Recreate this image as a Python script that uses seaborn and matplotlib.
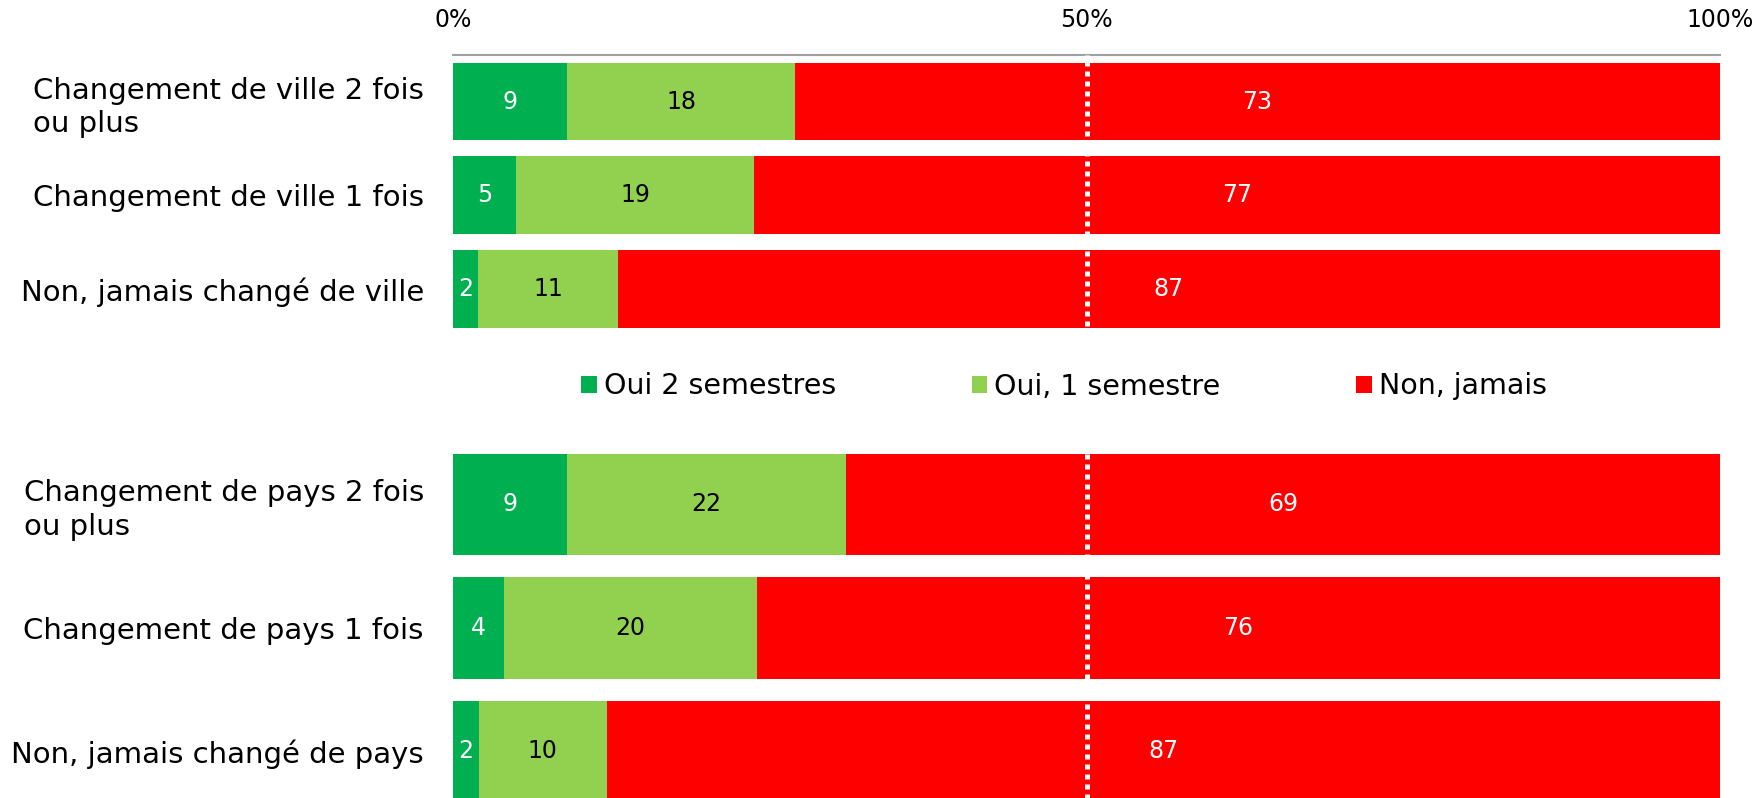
import numpy as np
import pandas as pd
import matplotlib
matplotlib.use("Agg")
import matplotlib.pyplot as plt
import seaborn as sns
from matplotlib.patches import Patch

# ---------------- data ----------------
cat_ville = ["Changement de ville 2 fois\nou plus",
             "Changement de ville 1 fois",
             "Non, jamais changé de ville"]
cat_pays = ["Changement de pays 2 fois\nou plus",
            "Changement de pays 1 fois",
            "Non, jamais changé de pays"]
series = ["Oui 2 semestres", "Oui, 1 semestre", "Non, jamais"]

ville_2sem = [9, 5, 2]
ville_1sem = [18, 19, 11]
ville_jamais = [73, 77, 87]

pays_2sem = [9, 4, 2]
pays_1sem = [22, 20, 10]
pays_jamais = [69, 76, 87]

x_ticks = [0, 50, 100]
x_ticklabels = ["0%", "50%", "100%"]

colors = ["#00B050", "#92D050", "#FF0000"]
label_colors = ["white", "black", "white"]

# ---------------- style ----------------
sns.set_theme(style="white")
plt.rcParams["font.family"] = ["DejaVu Sans"]
plt.rcParams["text.color"] = "black"
plt.rcParams["xtick.color"] = "black"
plt.rcParams["ytick.color"] = "black"
plt.rcParams["xtick.labelcolor"] = "black"
plt.rcParams["ytick.labelcolor"] = "black"

W, H = 1759, 798
fig = plt.figure(figsize=(W / 100, H / 100), dpi=100)
fig.patch.set_facecolor("white")

left = 453 / W
width = 1267 / W
ax_top = fig.add_axes([left, 1 - 335.8 / H, width, 281.1 / H])
ax_bot = fig.add_axes([left, 1 - 813.25 / H, width, 370.5 / H])


def draw(ax, cats, v2, v1, v0, bar_w):
    df = pd.DataFrame({"cat": cats, series[0]: v2, series[1]: v1, series[2]: v0})
    tot = df[series].sum(axis=1)
    pct = df[series].div(tot, axis=0) * 100
    cum = pct.cumsum(axis=1)
    for i in reversed(range(3)):
        sns.barplot(x=cum[series[i]].values, y=df["cat"].values, order=cats,
                    color=colors[i], saturation=1, width=bar_w, orient="h",
                    linewidth=0, errorbar=None, ax=ax)
    for j in range(len(cats)):
        for i in range(3):
            c = cum[series[i]].iloc[j] - pct[series[i]].iloc[j] / 2
            ax.text(c, j, str(df[series[i]].iloc[j]), ha="center", va="center",
                    color=label_colors[i], fontsize=17, zorder=6)
    ax.set_xlim(0, 100)
    ax.set_ylim(2.5, -0.5)
    ax.set_xlabel("")
    ax.set_ylabel("")
    ax.set_yticks(range(len(cats)))
    ax.set_yticklabels(cats, fontsize=21, linespacing=1.25, color="black")
    for t in ax.get_yticklabels():
        t.set_multialignment("left")
    ax.tick_params(axis="y", length=0, pad=21)
    ax.axvline(50, color="white", lw=3.6, linestyle=(0, (1, 1)), zorder=5,
               clip_on=False)
    for s in ax.spines.values():
        s.set_visible(False)


draw(ax_top, cat_ville, ville_2sem, ville_1sem, ville_jamais, 0.83)
draw(ax_bot, cat_pays, pays_2sem, pays_1sem, pays_jamais, 0.82)

# top axis with percentage ticks
ax_top.xaxis.tick_top()
ax_top.set_xticks(x_ticks)
ax_top.set_xticklabels(x_ticklabels, fontsize=17, color="black")
ax_top.tick_params(axis="x", length=0, pad=16)
ax_top.spines["top"].set_visible(True)
ax_top.spines["top"].set_color("#A0A0A0")
ax_top.spines["top"].set_linewidth(1.5)

ax_bot.set_xticks([])

handles = [Patch(facecolor=c, edgecolor="none") for c in colors]
fig.legend(handles, series, loc="center", bbox_to_anchor=(1064 / W, 1 - 386.5 / H),
           ncol=3, frameon=False, fontsize=20.5, handlelength=0.55,
           handleheight=0.55, handletextpad=0.25, columnspacing=4.75,
           borderpad=0, labelcolor="black")

fig.savefig("out.png", dpi=100, facecolor="white")
